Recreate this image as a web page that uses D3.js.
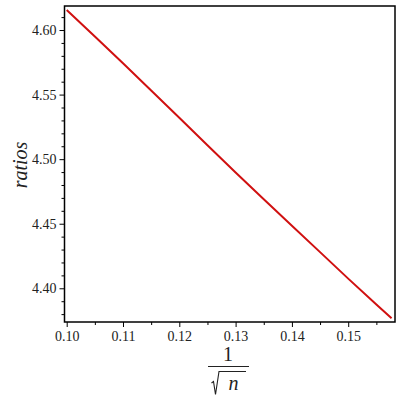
<!DOCTYPE html>
<html>
<head>
<meta charset="utf-8">
<script src="https://cdn.jsdelivr.net/npm/d3@7"></script>
<style>
  html, body { margin: 0; padding: 0; background: #fff; }
  svg { display: block; }
  .tick text { font-family: 'Liberation Serif', 'DejaVu Serif', serif !important; }
</style>
</head>
<body>
<svg id="chart" width="400" height="400"></svg>
<script>
// Data: x = 1/sqrt(n), y = ratio
const xValues = [0.100, 0.105, 0.110, 0.115, 0.120, 0.125, 0.130, 0.135, 0.140, 0.145, 0.150, 0.155, 0.1577];
const ratios  = [4.6155, 4.5950, 4.5742, 4.5532, 4.5320, 4.5108, 4.4897, 4.4689, 4.4484, 4.4280, 4.4075, 4.3874, 4.3768];
const xTicks = [0.10, 0.11, 0.12, 0.13, 0.14, 0.15];
const xMinorTicks = [0.105, 0.115, 0.125, 0.135, 0.145, 0.155];
const yTicks = [4.40, 4.45, 4.50, 4.55, 4.60];
const yMinorTicks = [4.38, 4.39, 4.41, 4.42, 4.43, 4.44, 4.46, 4.47, 4.48, 4.49, 4.51, 4.52, 4.53, 4.54, 4.56, 4.57, 4.58, 4.59, 4.61];
const yLabel = "ratios";

const svg = d3.select("#chart");
const L = 64.5, R = 395, T = 6, B = 322;

const x = d3.scaleLinear().domain([0.09961, 0.15831]).range([L, R]);
const y = d3.scaleLinear().domain([4.3739, 4.6186]).range([B, T]);

const font = "'Liberation Serif', 'DejaVu Serif', serif";

// Minor ticks
const xMinorAxis = d3.axisBottom(x).tickValues(xMinorTicks).tickSize(3).tickFormat("");
const yMinorAxis = d3.axisLeft(y).tickValues(yMinorTicks).tickSize(3).tickFormat("");
svg.append("g").attr("transform", `translate(0,${B})`).call(xMinorAxis)
  .call(g => g.select(".domain").remove())
  .selectAll("line").attr("stroke", "#000").attr("stroke-width", 1);
svg.append("g").attr("transform", `translate(${L},0)`).call(yMinorAxis)
  .call(g => g.select(".domain").remove())
  .selectAll("line").attr("stroke", "#000").attr("stroke-width", 1);

// Major ticks
const xAxis = d3.axisBottom(x).tickValues(xTicks).tickSize(5).tickPadding(4).tickFormat(d3.format(".2f"));
const yAxis = d3.axisLeft(y).tickValues(yTicks).tickSize(5).tickPadding(3).tickFormat(d3.format(".2f"));
const gx = svg.append("g").attr("transform", `translate(0,${B})`).call(xAxis)
  .attr("font-family", font).attr("font-size", 14);
gx.select(".domain").remove();
gx.selectAll("line").attr("stroke", "#000").attr("stroke-width", 1);
gx.selectAll("text").style("font-family", font).style("font-size", "14px").attr("fill", "#222");
const gy = svg.append("g").attr("transform", `translate(${L},0)`).call(yAxis)
  .attr("font-family", font).attr("font-size", 14);
gy.select(".domain").remove();
gy.selectAll("line").attr("stroke", "#000").attr("stroke-width", 1);
gy.selectAll("text").style("font-family", font).style("font-size", "14px").attr("fill", "#222");

// Frame
svg.append("rect").attr("x", L).attr("y", T).attr("width", R - L).attr("height", B - T)
  .attr("fill", "none").attr("stroke", "#000").attr("stroke-width", 1.5);

// Data line
const line = d3.line().x((d, i) => x(xValues[i])).y(d => y(d));
svg.append("path").datum(ratios).attr("d", line)
  .attr("fill", "none").attr("stroke", "#d01010").attr("stroke-width", 2);

// Y label
svg.append("text").attr("transform", "translate(27,165) rotate(-90)")
  .attr("text-anchor", "middle").attr("font-family", font).attr("font-style", "italic")
  .attr("font-size", 20).attr("fill", "#222").text(yLabel);

// X label: 1 / sqrt(n)
svg.append("text").attr("x", 228).attr("y", 361).attr("text-anchor", "middle")
  .attr("font-family", font).attr("font-size", 20).attr("fill", "#222").text("1");
svg.append("line").attr("x1", 208).attr("x2", 249).attr("y1", 366.5).attr("y2", 366.5)
  .attr("stroke", "#222").attr("stroke-width", 1);
svg.append("path").attr("d", "M211.5,383 L213.5,381.5 L215.5,394.5 L219,371.5 L246,371.5")
  .attr("fill", "none").attr("stroke", "#222").attr("stroke-width", 1.1);
svg.append("text").attr("x", 233.5).attr("y", 390).attr("text-anchor", "middle")
  .attr("font-family", font).attr("font-style", "italic").attr("font-size", 20).attr("fill", "#222").text("n");
</script>
</body>
</html>
